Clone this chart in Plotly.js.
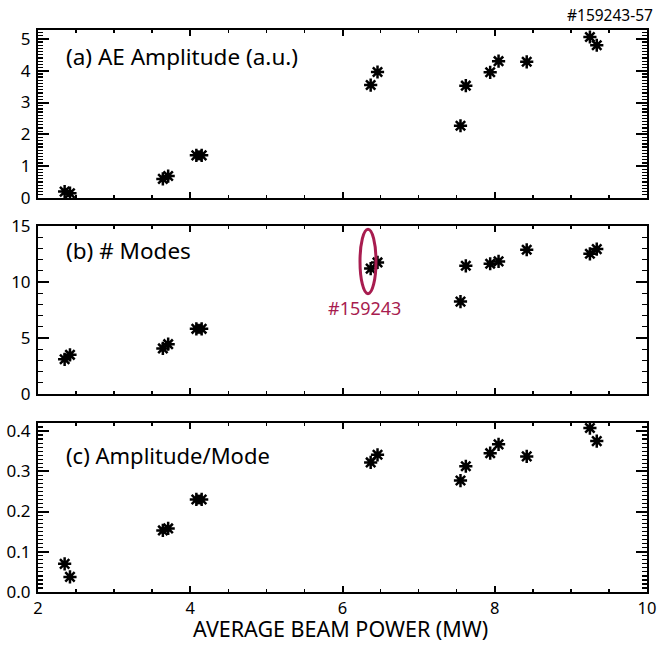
<!DOCTYPE html>
<html>
<head>
<meta charset="utf-8">
<script src="https://cdn.plot.ly/plotly-3.0.1.min.js"></script>
<style>html,body{margin:0;padding:0;background:#fff;}#chart{width:657px;height:645px;}</style>
</head>
<body>
<div id="chart"></div>
<script>
// Average beam power (MW) for each discharge
const beamPower = [2.35, 2.42, 3.64, 3.71, 4.08, 4.15, 6.37, 6.46, 7.55, 7.62, 7.94, 8.05, 8.42, 9.25, 9.34];
// (a) AE amplitude (a.u.)
const aeAmplitude = [0.20, 0.15, 0.60, 0.69, 1.34, 1.34, 3.55, 3.96, 2.27, 3.53, 3.95, 4.30, 4.28, 5.06, 4.80];
// (b) number of modes
const numModes = [3.1, 3.5, 4.07, 4.45, 5.82, 5.82, 11.2, 11.75, 8.25, 11.45, 11.63, 11.84, 12.88, 12.52, 12.94];
// (c) amplitude per mode
const ampPerMode = [0.070, 0.0375, 0.153, 0.158, 0.230, 0.230, 0.322, 0.341, 0.277, 0.3125, 0.345, 0.367, 0.337, 0.4075, 0.375];

const panelLabels = ["(a) AE Amplitude (a.u.)", "(b) # Modes", "(c) Amplitude/Mode"];
const shotRangeLabel = "#159243-57";
const highlightLabel = "#159243";
const xTitle = "AVERAGE BEAM POWER (MW)";

const FONT = "Noto Sans, Open Sans, sans-serif";
const RED = "#a81c4f";

function marker() {
  return {symbol: "asterisk-open", size: 11, color: "black", line: {color: "black", width: 2.5}};
}

const traces = [
  {x: beamPower, y: aeAmplitude, xaxis: "x", yaxis: "y", mode: "markers", type: "scatter", marker: marker(), showlegend: false},
  {x: beamPower, y: numModes, xaxis: "x2", yaxis: "y2", mode: "markers", type: "scatter", marker: marker(), showlegend: false},
  {x: beamPower, y: ampPerMode, xaxis: "x3", yaxis: "y3", mode: "markers", type: "scatter", marker: marker(), showlegend: false}
];

function xax(anchor, showLabels) {
  return {
    anchor: anchor, range: [2, 10], dtick: 2, tick0: 0, showticklabels: showLabels,
    ticks: "inside", ticklen: 6, tickwidth: 2, tickcolor: "black",
    minor: {dtick: 0.5, ticks: "inside", ticklen: 3, tickwidth: 1.5, tickcolor: "black", showgrid: false},
    showline: true, linecolor: "black", linewidth: 2, mirror: "allticks",
    showgrid: false, zeroline: false, ticklabelstandoff: 0,
    tickfont: {family: FONT, size: 16.5, color: "black"}
  };
}
function yax(anchor, domain, range, dtick, minorDtick, fmt) {
  return {
    anchor: anchor, domain: domain, range: range, dtick: dtick, tick0: 0, tickformat: fmt,
    ticks: "inside", ticklen: 11, tickwidth: 2, tickcolor: "black",
    minor: {dtick: minorDtick, ticks: "inside", ticklen: 5, tickwidth: 1.2, tickcolor: "black", showgrid: false},
    showline: true, linecolor: "black", linewidth: 2, mirror: "allticks",
    showgrid: false, zeroline: false, ticklabelstandoff: 2,
    tickfont: {family: FONT, size: 17, color: "black"}
  };
}

const layout = {
  width: 657, height: 645,
  margin: {l: 38, r: 10, t: 30, b: 53},
  paper_bgcolor: "white", plot_bgcolor: "white",
  font: {family: FONT, color: "black"},
  showlegend: false,
  xaxis: xax("y", false),
  xaxis2: xax("y2", false),
  xaxis3: xax("y3", true),
  yaxis: yax("x", [0.7011, 1], [0, 5.28], 1, 0.1, "d"),
  yaxis2: yax("x2", [0.3523, 0.6512], [0, 15], 5, 1, "d"),
  yaxis3: yax("x3", [0, 0.3007], [0, 0.42], 0.1, 0.01, ".1f"),
  shapes: [
    {type: "circle", xref: "x2", yref: "y2", x0: 6.23, x1: 6.44, y0: 8.96, y1: 14.72, line: {color: RED, width: 3}}
  ],
  annotations: [
    {xref: "x domain", yref: "y domain", x: 0.042, y: 0.845, xanchor: "left", yanchor: "middle", text: panelLabels[0], showarrow: false, font: {family: FONT, size: 22.5, color: "black"}},
    {xref: "x2 domain", yref: "y2 domain", x: 0.042, y: 0.857, xanchor: "left", yanchor: "middle", text: panelLabels[1], showarrow: false, font: {family: FONT, size: 22.5, color: "black"}},
    {xref: "x3 domain", yref: "y3 domain", x: 0.042, y: 0.81, xanchor: "left", yanchor: "middle", text: panelLabels[2], showarrow: false, font: {family: FONT, size: 22, color: "black"}},
    {xref: "x2", yref: "y2", x: 6.29, y: 7.7, xanchor: "center", yanchor: "middle", text: highlightLabel, showarrow: false, font: {family: FONT, size: 18, color: RED}},
    {xref: "paper", yref: "paper", x: 1.013, y: 1.027, xanchor: "right", yanchor: "middle", text: shotRangeLabel, showarrow: false, font: {family: FONT, size: 15.5, color: "black"}},
    {xref: "paper", yref: "paper", x: 0.4975, y: -0.0658, xanchor: "center", yanchor: "middle", borderpad: 0, text: xTitle, showarrow: false, font: {family: FONT, size: 21.5, color: "black"}}
  ]
};

Plotly.newPlot("chart", traces, layout, {displayModeBar: false, staticPlot: true});
</script>
</body>
</html>
